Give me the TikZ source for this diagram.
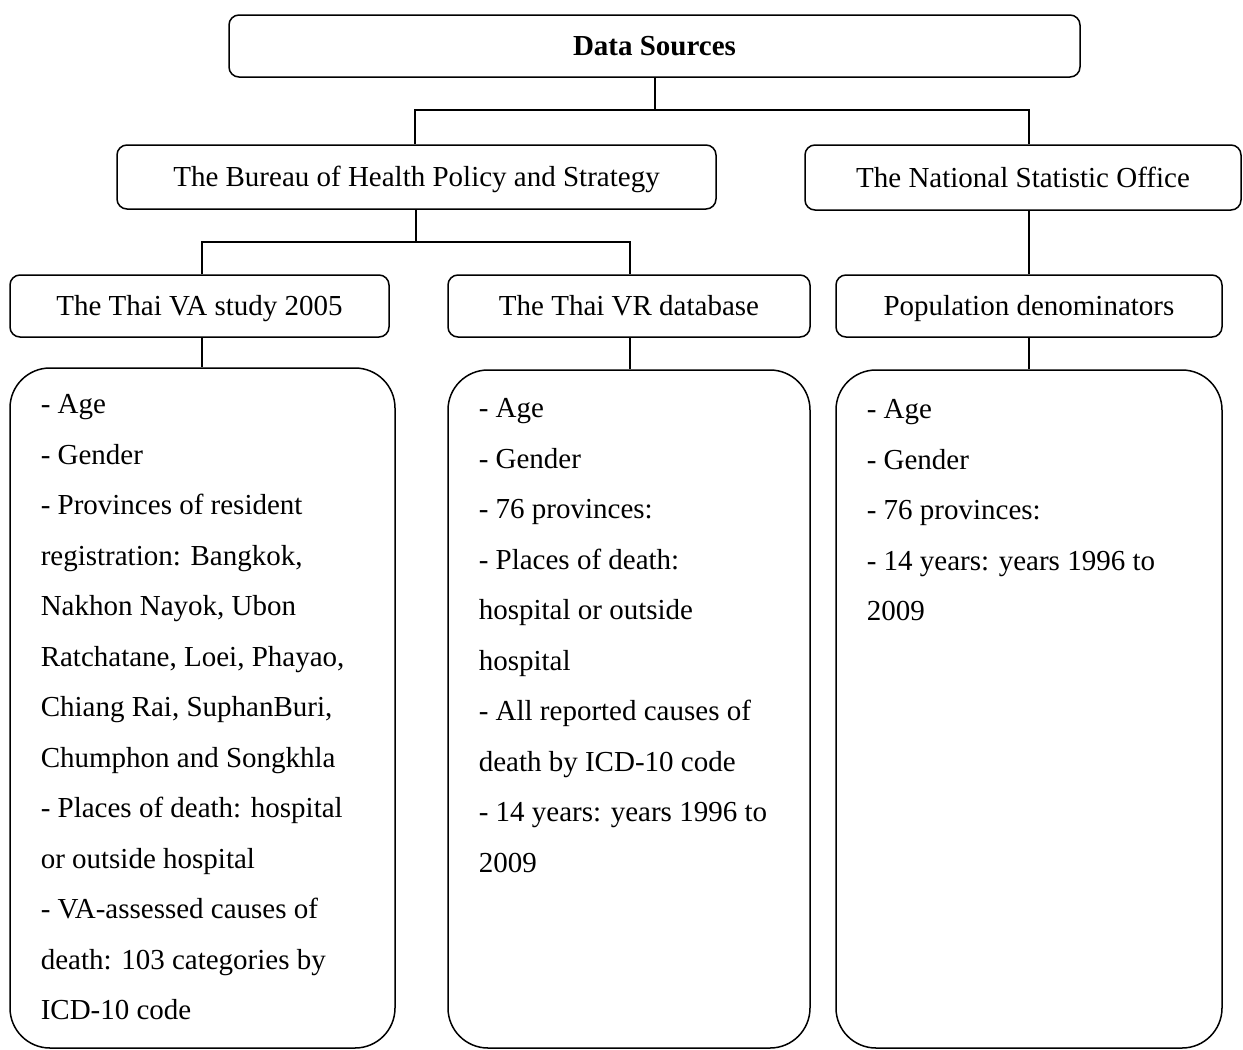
\documentclass[tikz,border=0pt]{standalone}
\usepackage{fontspec}
\setmainfont{Liberation Serif}
\begin{document}
\begin{tikzpicture}[x=1pt,y=-1pt,
  line width=1.5pt,
  topbox/.style={draw, rounded corners=10pt, inner sep=0pt, text height=23pt, text depth=3.5pt, font=\fontsize{29}{34}\selectfont},
  databox/.style={draw, rounded corners=40pt, inner sep=0pt},
  list/.style={anchor=north west, inner sep=0pt, align=left, font=\fontsize{29}{50.5}\selectfont}]
\useasboundingbox (0,0) rectangle (1243,1050);
% top level
\node[topbox, minimum width=851pt, minimum height=62pt, font=\fontsize{29}{34}\selectfont\bfseries] (ds) at (654.5,46) {Data Sources};
\node[topbox, minimum width=599pt, minimum height=64pt] (bur) at (416.5,177) {The Bureau of Health Policy and Strategy};
\node[topbox, minimum width=436pt, minimum height=65pt] (nso) at (1023,177.5) {The National Statistic Office};
\node[topbox, minimum width=379pt, minimum height=62pt] (va) at (199.5,306) {The Thai VA study 2005};
\node[topbox, minimum width=362pt, minimum height=62pt] (vr) at (629,306) {The Thai VR database};
\node[topbox, minimum width=386pt, minimum height=62pt] (pop) at (1029,306) {Population denominators};
% data boxes
\node[databox, minimum width=385pt, minimum height=680pt] (vad) at (202.5,708) {};
\node[databox, minimum width=362pt, minimum height=678pt] (vrd) at (629,709) {};
\node[databox, minimum width=386pt, minimum height=678pt] (popd) at (1029,709) {};
% texts
\node[list] (vat) at (40,394) {- Age\\- Gender\\- Provinces of resident\\registration: Bangkok,\\Nakhon Nayok, Ubon\\Ratchatane, Loei, Phayao,\\Chiang Rai, SuphanBuri,\\Chumphon and Songkhla\\- Places of death: hospital\\or outside hospital\\- VA-assessed causes of\\death: 103 categories by\\ICD-10 code};
\node[list] (vrt) at (478,398) {- Age\\- Gender\\- 76 provinces:\\- Places of death:\\hospital or outside\\hospital\\- All reported causes of\\death by ICD-10 code\\- 14 years: years 1996 to\\2009};
\node[list] (popt) at (866,399) {- Age\\- Gender\\- 76 provinces:\\- 14 years: years 1996 to\\2009};
% connectors
\coordinate (j1) at (655,110);
\coordinate (j2) at (416,242);
\draw (ds.south -| j1) -- (j1);
\draw (bur.north -| 415,0) |- (j1) -| (nso.north -| 1029,0);
\draw (bur.south -| j2) -- (j2);
\draw (va.north -| 202,0) |- (j2) -| (vr.north -| 630,0);
\draw (va.south -| 202,0) -- (vad.north -| 202,0);
\draw (vr.south -| 630,0) -- (vrd.north -| 630,0);
\draw (nso.south -| pop.north) -- (pop.north);
\draw (pop.south) -- (popd.north);
\end{tikzpicture}
\end{document}
